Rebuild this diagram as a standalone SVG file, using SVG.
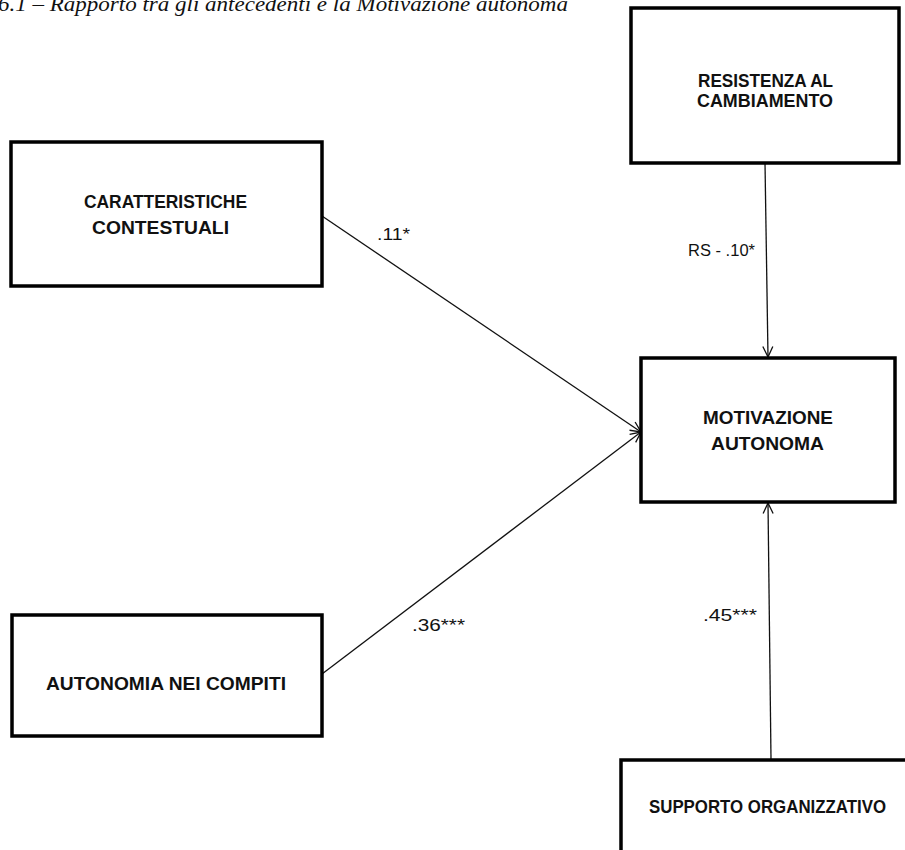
<svg xmlns="http://www.w3.org/2000/svg" width="905" height="850" viewBox="0 0 905 850">
<style>
.box{fill:#fff;stroke:#000;stroke-width:3.5}
.t{font-family:"Liberation Sans",Arial,sans-serif;font-weight:bold;font-size:18px;fill:#111}
.l{font-family:"Liberation Sans",Arial,sans-serif;font-size:16px;fill:#111}
.c{stroke:#111;stroke-width:1.3;fill:none}
.cap{font-family:"Liberation Serif","Times New Roman",serif;font-style:italic;font-size:20px;fill:#111}
</style>
<defs>
<marker id="arr" viewBox="0 0 12 12" refX="11.5" refY="6" markerWidth="12" markerHeight="12" markerUnits="userSpaceOnUse" orient="auto">
<path d="M1,1 L11.5,6 L1,11" fill="none" stroke="#111" stroke-width="1.3"/>
</marker>
</defs>
<rect width="905" height="850" fill="#fff"/>
<text class="cap" x="-2" y="11" textLength="570" lengthAdjust="spacingAndGlyphs">6.1 – Rapporto tra gli antecedenti e la Motivazione autonoma</text>
<g id="connectors">
<line class="c" x1="322" y1="216" x2="641" y2="432" marker-end="url(#arr)"/>
<line class="c" x1="322" y1="674" x2="641" y2="432" marker-end="url(#arr)"/>
<line class="c" x1="765" y1="163" x2="768" y2="357" marker-end="url(#arr)"/>
<line class="c" x1="771" y1="759" x2="768" y2="503" marker-end="url(#arr)"/>
<text class="l" x="377" y="240" textLength="33" lengthAdjust="spacingAndGlyphs">.11*</text>
<text class="l" x="688" y="256" textLength="67" lengthAdjust="spacingAndGlyphs">RS - .10*</text>
<text class="l" x="412" y="631" textLength="53" lengthAdjust="spacingAndGlyphs">.36***</text>
<text class="l" x="703" y="621" textLength="54" lengthAdjust="spacingAndGlyphs">.45***</text>
</g>
<g id="resistenza">
<rect class="box" x="631" y="8" width="268" height="155"/>
<text class="t" x="698" y="87" textLength="135" lengthAdjust="spacingAndGlyphs">RESISTENZA AL</text>
<text class="t" x="697" y="107" textLength="136" lengthAdjust="spacingAndGlyphs">CAMBIAMENTO</text>
</g>
<g id="caratteristiche">
<rect class="box" x="11" y="142" width="311" height="144"/>
<text class="t" x="84" y="208" textLength="163" lengthAdjust="spacingAndGlyphs">CARATTERISTICHE</text>
<text class="t" x="92" y="234" textLength="137" lengthAdjust="spacingAndGlyphs">CONTESTUALI</text>
</g>
<g id="motivazione">
<rect class="box" x="641" y="358" width="254" height="144"/>
<text class="t" x="703" y="424" textLength="130" lengthAdjust="spacingAndGlyphs">MOTIVAZIONE</text>
<text class="t" x="711" y="450" textLength="113" lengthAdjust="spacingAndGlyphs">AUTONOMA</text>
</g>
<g id="autonomia">
<rect class="box" x="12" y="615" width="310" height="121"/>
<text class="t" x="46" y="690" textLength="240" lengthAdjust="spacingAndGlyphs">AUTONOMIA NEI COMPITI</text>
</g>
<g id="supporto">
<rect class="box" x="621" y="760" width="300" height="120"/>
<text class="t" x="649" y="813" textLength="237" lengthAdjust="spacingAndGlyphs">SUPPORTO ORGANIZZATIVO</text>
</g>
</svg>
